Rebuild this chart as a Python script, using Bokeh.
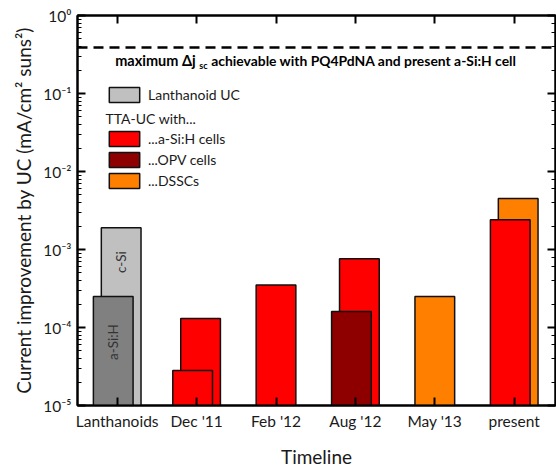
from bokeh.plotting import figure
from bokeh.models import (Range1d, LogAxis, LinearAxis, Span, Label, Legend, LegendItem,
                          CustomJSTickFormatter, FixedTicker, ColumnDataSource, LogTicker)
from bokeh.core.properties import value
from bokeh.embed import file_html
from bokeh.resources import INLINE
import math

# ---------------- data ----------------
categories = ["Lanthanoids", "Dec '11", "Feb '12", "Aug '12", "May '13", "present"]

lanth_labels = ["c-Si", "a-Si:H"]
lanth_values = [1.9e-3, 2.5e-4]

asih_cats = ["Dec '11", "Dec '11", "Feb '12", "Aug '12", "present"]
asih_values = [1.3e-4, 2.8e-5, 3.5e-4, 7.6e-4, 2.4e-3]

opv_cats = ["Aug '12"]
opv_values = [1.6e-4]

dssc_cats = ["May '13", "present"]
dssc_values = [2.5e-4, 4.5e-3]

max_current = 0.39
y_floor = 1e-5

# ---------------- styles ----------------
FONT = "Lato"
C_LIGHT = "#c0c0c0"
C_DARKGRAY = "#808080"
C_RED = "#ff0000"
C_DARKRED = "#8e0000"
C_ORANGE = "#ff7f00"
TXT = "#1a1a1a"

series = [
    ("lanth", ["Lanthanoids"] * len(lanth_values), lanth_values, [C_LIGHT, C_DARKGRAY]),
    ("asih", asih_cats, asih_values, [C_RED] * len(asih_values)),
    ("opv", opv_cats, opv_values, [C_DARKRED] * len(opv_values)),
    ("dssc", dssc_cats, dssc_values, [C_ORANGE] * len(dssc_values)),
]

rows = []
for name, cats, vals, cols in series:
    for c, v, col in zip(cats, vals, cols):
        rows.append(dict(series=name, cat=c, val=v, color=col))

SHIFT = 0.05
back = dict(x=[], top=[], color=[], series=[])
front = dict(x=[], top=[], color=[], series=[])
for ci, cat in enumerate(categories):
    group = sorted([r for r in rows if r["cat"] == cat], key=lambda r: -r["val"])
    for j, r in enumerate(group):
        tgt = back if j == 0 else front
        off = 0 if len(group) == 1 else (SHIFT if j == 0 else -SHIFT)
        tgt["x"].append(ci + off)
        tgt["top"].append(r["val"])
        tgt["color"].append(r["color"])
        tgt["series"].append(r["series"])

p = figure(width=556, height=470, output_backend="svg", toolbar_location=None,
           x_range=Range1d(-0.5, 5.52), y_range=Range1d(y_floor, 1), y_axis_type="log",
           min_border_left=77, min_border_top=15, min_border_bottom=61, min_border_right=1)
p.grid.visible = False
p.outline_line_color = "black"
p.outline_line_width = 2
p.background_fill_color = "white"
p.border_fill_color = "white"

src_back = ColumnDataSource(back)
src_front = ColumnDataSource(front)
r_back = p.vbar(x="x", top="top", bottom=y_floor, width=0.5, source=src_back,
                fill_color="color", line_color="#111111", line_width=1.5)
r_front = p.vbar(x="x", top="top", bottom=y_floor, width=0.5, source=src_front,
                 fill_color="color", line_color="#111111", line_width=1.5)

# labels inside lanthanoid bars
lx = categories.index("Lanthanoids")
p.text(x=[lx + SHIFT, lx - SHIFT],
       y=[math.sqrt(lanth_values[0] * lanth_values[1]), math.sqrt(y_floor * lanth_values[1]) * 1.3],
       text=lanth_labels, angle=math.pi / 2, text_align="center", text_baseline="middle",
       text_font=value(FONT), text_font_size="13.5px", text_color="#333333")

# dashed maximum line
p.add_layout(Span(location=max_current, dimension="width", line_color="black",
                  line_width=2.5, line_dash="10 6"))
ty = 0.268
for txt, off, dy, fs in (("maximum \u0394j", 0, 0, "14.5px"), ("sc", 84, -5, "9px"),
                         ("achievable with PQ4PdNA and present a-Si:H cell", 96, 0, "13.9px")):
    p.add_layout(Label(x=-0.025, y=ty, x_offset=off, y_offset=dy, text=txt,
                       text_font=FONT, text_font_size=fs, text_font_style="bold",
                       text_baseline="middle", text_color="black"))

# axes
fmt = CustomJSTickFormatter(code="""
const e = Math.round(Math.log10(tick));
const sup = {'-':'\u207b','0':'\u2070','1':'\u00b9','2':'\u00b2','3':'\u00b3','4':'\u2074','5':'\u2075','6':'\u2076','7':'\u2077','8':'\u2078','9':'\u2079'};
return '10' + String(e).split('').map(c => sup[c]).join('');
""")
ya = p.yaxis[0]
ya.formatter = fmt
ya.axis_label = "Current improvement by UC (mA/cm\u00b2 suns\u00b2)"
xa = p.xaxis[0]
xa.ticker = FixedTicker(ticks=list(range(len(categories))))
xa.major_label_overrides = {i: c for i, c in enumerate(categories)}
xa.axis_label = "Timeline"

for ax in (xa, ya):
    ax.axis_line_width = 2
    ax.major_tick_in = 8
    ax.major_tick_out = 0
    ax.minor_tick_in = 4
    ax.minor_tick_out = 0
    ax.major_tick_line_width = 2
    ax.major_label_text_font = FONT
    ax.major_label_text_font_size = "15.5px"
    ax.major_label_text_color = TXT
    ax.axis_label_text_font = FONT
    ax.axis_label_text_font_style = "normal"
    ax.axis_label_text_color = TXT
xa.axis_label_text_font_size = "19px"
ya.axis_label_text_font_size = "19px"
xa.major_label_standoff = 6
ya.major_label_standoff = 6
xa.axis_label_standoff = 12

blank = CustomJSTickFormatter(code="return '';")
top_ax = LinearAxis(ticker=FixedTicker(ticks=list(range(len(categories)))), formatter=blank,
                    major_label_standoff=0, major_tick_in=8, major_tick_out=0,
                    major_tick_line_width=2, major_tick_line_color="black",
                    axis_line_width=2, minor_tick_out=0)
p.add_layout(top_ax, "above")
right_ax = LogAxis(ticker=LogTicker(), formatter=blank, major_label_standoff=0,
                   major_tick_in=8, major_tick_out=0, minor_tick_in=4, minor_tick_out=0,
                   axis_line_width=2, major_tick_line_width=2)
p.add_layout(right_ax, "right")

# legends
leg_style = dict(label_text_font=FONT, label_text_font_size="14px", label_text_color=TXT,
                 padding=0, margin=0, border_line_alpha=0, background_fill_alpha=0,
                 glyph_width=38, glyph_height=19, label_height=19, label_standoff=5, spacing=2)
lanth_idx = back["series"].index("lanth")
leg1 = Legend(items=[LegendItem(label="Lanthanoid UC", renderers=[r_back], index=lanth_idx)],
              location=(28, 301), **leg_style)
red_idx = back["series"].index("asih")
opv_front = front["series"].index("opv")
dssc_idx = back["series"].index("dssc")
leg2 = Legend(items=[LegendItem(label="...a-Si:H cells", renderers=[r_back], index=red_idx),
                     LegendItem(label="...OPV cells", renderers=[r_front], index=opv_front),
                     LegendItem(label="...DSSCs", renderers=[r_back], index=dssc_idx)],
              location=(28, 215), **leg_style)
p.add_layout(leg1)
p.add_layout(leg2)
p.add_layout(Label(x=28, y=287, x_units="screen", y_units="screen", text="TTA-UC with...",
                   text_font=FONT, text_font_size="14px", text_color=TXT,
                   text_baseline="middle"))

open("out.html", "w").write(file_html(p, INLINE))
